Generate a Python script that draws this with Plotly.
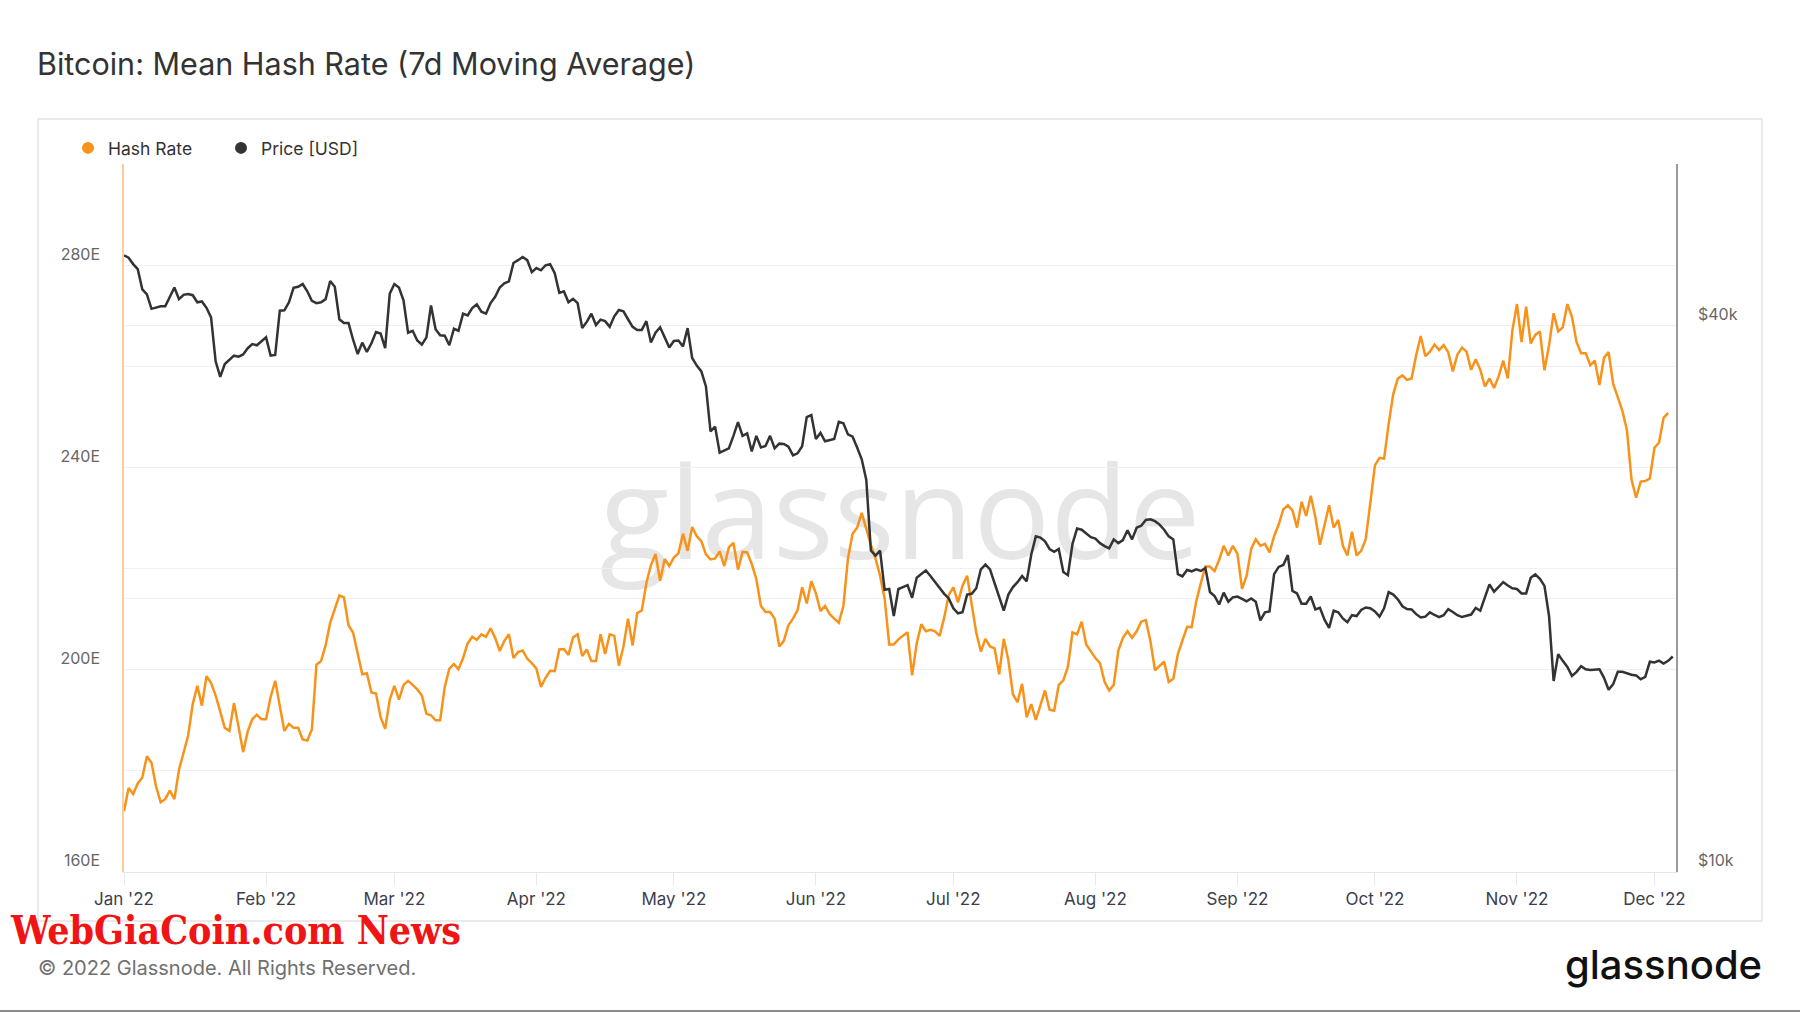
import pandas as pd
import plotly.graph_objects as go

start_date = "2022-01-01"

hash_rate = [
    172.0, 176.6, 175.4, 177.5, 178.7, 182.9, 181.6, 176.9, 173.8, 174.4,
    176.1, 174.4, 180.2, 183.6, 187.0, 193.2, 196.8, 192.9, 198.7, 197.4,
    194.9, 191.7, 188.5, 187.9, 193.4, 188.7, 183.7, 187.8, 190.2, 191.1,
    190.2, 190.2, 194.6, 197.8, 193.2, 187.9, 189.3, 188.5, 188.5, 186.2,
    186.0, 188.2, 201.0, 201.7, 204.8, 209.3, 212.0, 214.7, 214.3, 208.8,
    207.3, 202.9, 199.1, 199.3, 195.5, 195.3, 190.6, 188.3, 194.1, 196.8,
    194.1, 197.0, 197.8, 197.0, 196.1, 194.9, 191.3, 191.0, 190.0, 190.0,
    196.6, 200.2, 201.1, 200.1, 202.3, 205.2, 206.5, 205.9, 207.0, 206.5,
    208.2, 206.3, 203.7, 205.7, 207.0, 202.3, 203.5, 203.8, 202.2, 201.3,
    200.2, 196.6, 198.4, 199.8, 199.7, 204.0, 204.1, 202.9, 206.4, 207.0,
    202.7, 204.0, 201.7, 201.7, 207.0, 203.1, 207.0, 206.7, 200.8, 204.6,
    210.1, 204.8, 211.2, 211.7, 217.1, 220.7, 222.9, 217.6, 221.9, 220.5,
    222.2, 223.0, 226.9, 223.5, 228.2, 226.4, 225.4, 222.8, 221.8, 222.0,
    223.4, 220.5, 224.2, 225.1, 219.8, 223.3, 223.2, 220.9, 217.9, 212.6,
    211.4, 211.4, 210.1, 204.6, 205.7, 208.8, 210.1, 211.8, 216.3, 213.1,
    217.5, 215.1, 211.6, 212.6, 211.0, 210.1, 209.3, 212.6, 222.0, 226.9,
    228.1, 231.0, 227.7, 224.7, 222.0, 218.6, 214.1, 205.0, 205.0, 206.0,
    206.7, 207.4, 198.9, 205.2, 209.0, 207.6, 207.9, 207.6, 206.7, 210.3,
    214.8, 216.3, 213.3, 216.6, 218.6, 213.3, 207.3, 203.6, 206.1, 204.6,
    204.2, 199.1, 206.1, 201.9, 195.1, 193.6, 197.2, 190.6, 193.2, 190.1,
    193.2, 195.9, 192.1, 191.9, 197.0, 197.9, 200.6, 207.4, 207.0, 209.5,
    205.0, 203.6, 202.3, 201.3, 197.6, 195.9, 197.0, 203.8, 206.3, 207.6,
    206.3, 207.6, 209.5, 209.8, 205.7, 199.9, 200.7, 201.6, 197.6, 198.2,
    203.1, 205.7, 208.5, 208.4, 213.5, 217.1, 220.4, 220.4, 219.5, 221.7,
    224.5, 222.6, 224.5, 222.9, 216.0, 218.6, 223.9, 225.8, 224.5, 224.9,
    223.2, 226.4, 228.7, 231.7, 232.5, 231.5, 228.1, 233.2, 230.4, 234.4,
    230.2, 224.7, 228.7, 232.5, 228.1, 229.6, 224.5, 222.6, 227.3, 222.6,
    223.5, 225.8, 233.0, 240.4, 241.9, 241.7, 248.6, 254.5, 257.6, 258.2,
    257.3, 257.6, 262.2, 266.0, 262.0, 262.9, 264.3, 263.2, 264.2, 262.8,
    259.0, 262.3, 263.7, 262.9, 259.3, 261.4, 259.3, 256.0, 257.6, 255.7,
    258.0, 261.1, 257.6, 267.1, 272.3, 264.8, 271.8, 264.5, 266.2, 266.9,
    259.2, 264.1, 270.5, 266.9, 267.7, 272.3, 269.8, 264.8, 262.6, 262.6,
    260.2, 261.1, 256.3, 261.7, 262.8, 256.5, 253.9, 251.2, 247.4, 237.6,
    234.0, 237.2, 237.3, 237.8, 243.9, 244.9, 249.8, 250.8,
]

price_usd = [
    47820, 47540, 46780, 46180, 43870, 43310, 41760, 41870, 42030, 42030,
    42970, 44080, 42800, 43270, 43360, 43230, 42460, 42550, 41870, 40860,
    36550, 35140, 36300, 36730, 37080, 36980, 37190, 37790, 38180, 38070,
    38450, 38840, 37080, 37150, 41560, 41600, 42460, 44040, 44170, 44470,
    43660, 42620, 42370, 42460, 42800, 44810, 44170, 40670, 40280, 40280,
    38610, 37230, 38330, 37430, 38260, 39380, 39220, 37790, 43400, 44470,
    44080, 42670, 39310, 39500, 38530, 38140, 38840, 42120, 39660, 39050,
    39000, 38070, 39700, 39500, 41250, 41060, 41840, 42240, 41450, 41250,
    42380, 43060, 44080, 44550, 44770, 46920, 47250, 47630, 47250, 45840,
    46310, 46050, 46640, 46780, 45710, 43490, 43660, 42460, 42840, 42380,
    39770, 40400, 41250, 40080, 40630, 40470, 39890, 40980, 41640, 41490,
    40670, 39890, 39580, 39580, 40470, 38330, 39310, 39850, 38840, 37860,
    38490, 38530, 37960, 39770, 36860, 36160, 35630, 34290, 30600, 30970,
    28990, 29130, 29310, 30250, 31320, 30250, 30450, 29080, 30250, 29370,
    29480, 30250, 29310, 29660, 29630, 29430, 28790, 28940, 29460, 31730,
    31890, 30010, 30480, 29840, 29900, 30010, 31350, 31240, 30360, 30190,
    29370, 28500, 27050, 22610, 22320, 22610, 20470, 20510, 19150, 20510,
    20610, 20710, 20060, 21100, 21300, 21500, 21200, 20870, 20550, 20260,
    20020, 19530, 19280, 19330, 20220, 20260, 20550, 21560, 21820, 21560,
    20810, 20080, 19410, 20220, 20610, 20870, 21200, 20910, 22390, 23440,
    23370, 23150, 22700, 22540, 22700, 21410, 21240, 23000, 23910, 23840,
    23600, 23390, 23310, 23040, 22870, 22740, 23260, 23040, 23220, 23810,
    23260, 23960, 24080, 24440, 24480, 24360, 24150, 23840, 23440, 23260,
    21300, 21180, 21520, 21450, 21560, 21470, 21630, 20350, 20150, 19720,
    20320, 19860, 20080, 20120, 20000, 19880, 20020, 19860, 18940, 19330,
    19370, 21300, 21690, 21800, 22350, 20410, 20280, 19760, 19760, 20120,
    19470, 19550, 18970, 18580, 19410, 19330, 19030, 18850, 19190, 19150,
    19450, 19570, 19530, 19370, 19120, 19530, 20350, 20220, 19980, 19630,
    19490, 19470, 19240, 19080, 19120, 19330, 19200, 19100, 19190, 19490,
    19350, 19190, 19100, 19150, 19220, 19550, 19410, 20080, 20750, 20370,
    20610, 20870, 20690, 20550, 20510, 20280, 20280, 21100, 21280, 21040,
    20670, 19150, 16240, 17380, 17090, 16830, 16450, 16620, 16860, 16730,
    16700, 16710, 16730, 16370, 15880, 16110, 16620, 16620, 16550, 16500,
    16470, 16310, 16410, 17050, 17020, 17100, 16970, 17090, 17280,
]

month_ticks = ["2022-01-01", "2022-02-01", "2022-03-01", "2022-04-01", "2022-05-01", "2022-06-01",
               "2022-07-01", "2022-08-01", "2022-09-01", "2022-10-01", "2022-11-01", "2022-12-01"]
month_labels = ["Jan '22", "Feb '22", "Mar '22", "Apr '22", "May '22", "Jun '22",
                "Jul '22", "Aug '22", "Sep '22", "Oct '22", "Nov '22", "Dec '22"]
hash_ticks = [160, 180, 200, 220, 240, 260, 280, 300]
hash_labels = ["160E", "", "200E", "", "240E", "", "280E", ""]
price_ticks = [10000, 20000, 40000]
price_labels = ["$10k", "", "$40k"]

hash_dates = pd.date_range(start_date, periods=len(hash_rate), freq="D")
price_dates = pd.date_range(start_date, periods=len(price_usd), freq="D")

ORANGE = "#f7931a"
DARK = "#333333"
FONT = "Inter"

fig = go.Figure()
fig.add_trace(go.Scatter(x=hash_dates, y=hash_rate, mode="lines", name="Hash Rate",
                         line=dict(color=ORANGE, width=2.5), showlegend=False, yaxis="y"))
fig.add_trace(go.Scatter(x=price_dates, y=price_usd, mode="lines", name="Price [USD]",
                         line=dict(color=DARK, width=2.5), showlegend=False, yaxis="y2"))
# legend entries (dot markers)
fig.add_trace(go.Scatter(x=[None], y=[None], mode="markers", name="Hash Rate",
                         marker=dict(color=ORANGE, size=12, symbol="circle"), yaxis="y"))
fig.add_trace(go.Scatter(x=[None], y=[None], mode="markers", name="Price [USD]",
                         marker=dict(color=DARK, size=12, symbol="circle"), yaxis="y2"))

W, H = 1800, 1013
L, R, T, B = 124, 124, 164, 141
pw, ph = W - L - R, H - T - B


def px(x):
    return (x - L) / pw


def py(y):
    return (H - B - y) / ph


fig.update_layout(
    width=W, height=H,
    margin=dict(l=L, r=R, t=T, b=B, pad=0),
    paper_bgcolor="white", plot_bgcolor="white",
    font=dict(family=FONT, color="#444"),
    title=dict(text="Bitcoin: Mean Hash Rate (7d Moving Average)",
               x=37 / W, xanchor="left", xref="container",
               y=1 - 64 / H, yanchor="middle", yref="container",
               font=dict(family=FONT, size=30.5, color="#333333")),
    legend=dict(orientation="h", x=px(68), xanchor="left", y=py(148), yanchor="middle",
                font=dict(family=FONT, size=17.5, color="#333333"),
                itemwidth=30, bgcolor="rgba(0,0,0,0)", entrywidth=108, entrywidthmode="pixels"),
    xaxis=dict(type="date", range=["2022-01-01", "2022-12-05 17:00"],
               tickvals=month_ticks, ticktext=month_labels,
               showgrid=False, showline=True, linecolor="#e6e6e6", linewidth=1,
               ticks="outside", ticklen=12, tickcolor="#e8e8e8", tickwidth=1,
               tickfont=dict(family=FONT, size=17, color="#3d3d4d"), zeroline=False),
    yaxis=dict(range=[160, 300], tickvals=hash_ticks, ticktext=hash_labels,
               showgrid=True, gridcolor="#f0f0f0", gridwidth=1,
               showline=True, linecolor="rgba(247,147,26,0.45)", linewidth=1.5,
               ticks="", ticklabelposition="outside top", ticklabelstandoff=19,
               tickfont=dict(family=FONT, size=16, color="#666666"), zeroline=False),
    yaxis2=dict(type="log", range=[4, 4.7804], overlaying="y", side="right",
                tickvals=price_ticks, ticktext=price_labels,
                showgrid=True, gridcolor="#f0f0f0", gridwidth=1,
                showline=True, linecolor="#9a9a9a", linewidth=1.5,
                ticks="", ticklabelposition="outside top", ticklabelstandoff=17,
                tickfont=dict(family=FONT, size=16, color="#666666"), zeroline=False),
)

# card border
fig.add_shape(type="rect", xref="paper", yref="paper",
              x0=px(38), x1=px(1762), y0=py(921), y1=py(119),
              line=dict(color="#e4e4e4", width=1.5), fillcolor="rgba(0,0,0,0)", layer="below")
# bottom rule of the screenshot
fig.add_shape(type="line", xref="paper", yref="paper",
              x0=px(0), x1=px(1800), y0=py(1011), y1=py(1011),
              line=dict(color="#8a8a8a", width=2))
# watermark, below traces
fig.add_shape(type="rect", xref="paper", yref="paper", x0=0.3, x1=0.7, y0=0.4, y1=0.6,
              line=dict(width=0), fillcolor="rgba(0,0,0,0)", layer="below",
              label=dict(text="glassnode", textposition="middle center",
                         font=dict(family="Open Sans", size=128, color="#e6e6e6")))

fig.add_annotation(text="© 2022 Glassnode. All Rights Reserved.", xref="paper", yref="paper",
                   x=px(36), y=py(968), xanchor="left", yanchor="middle", showarrow=False,
                   font=dict(family=FONT, size=20, color="#707070"))
fig.add_annotation(text="glassnode", xref="paper", yref="paper",
                   x=px(1764), y=py(964), xanchor="right", yanchor="middle", showarrow=False,
                   font=dict(family=FONT, size=40, color="#111111", weight=500))
fig.add_annotation(text="WebGiaCoin.com News", xref="paper", yref="paper",
                   x=px(8), y=py(930), xanchor="left", yanchor="middle", showarrow=False,
                   font=dict(family="DejaVu Serif Condensed", size=39, color="#f01414", weight="bold"))

fig.write_html("out.html", config={"displayModeBar": False},
               post_script="document.body.style.margin='0';document.body.style.overflow='hidden';")
